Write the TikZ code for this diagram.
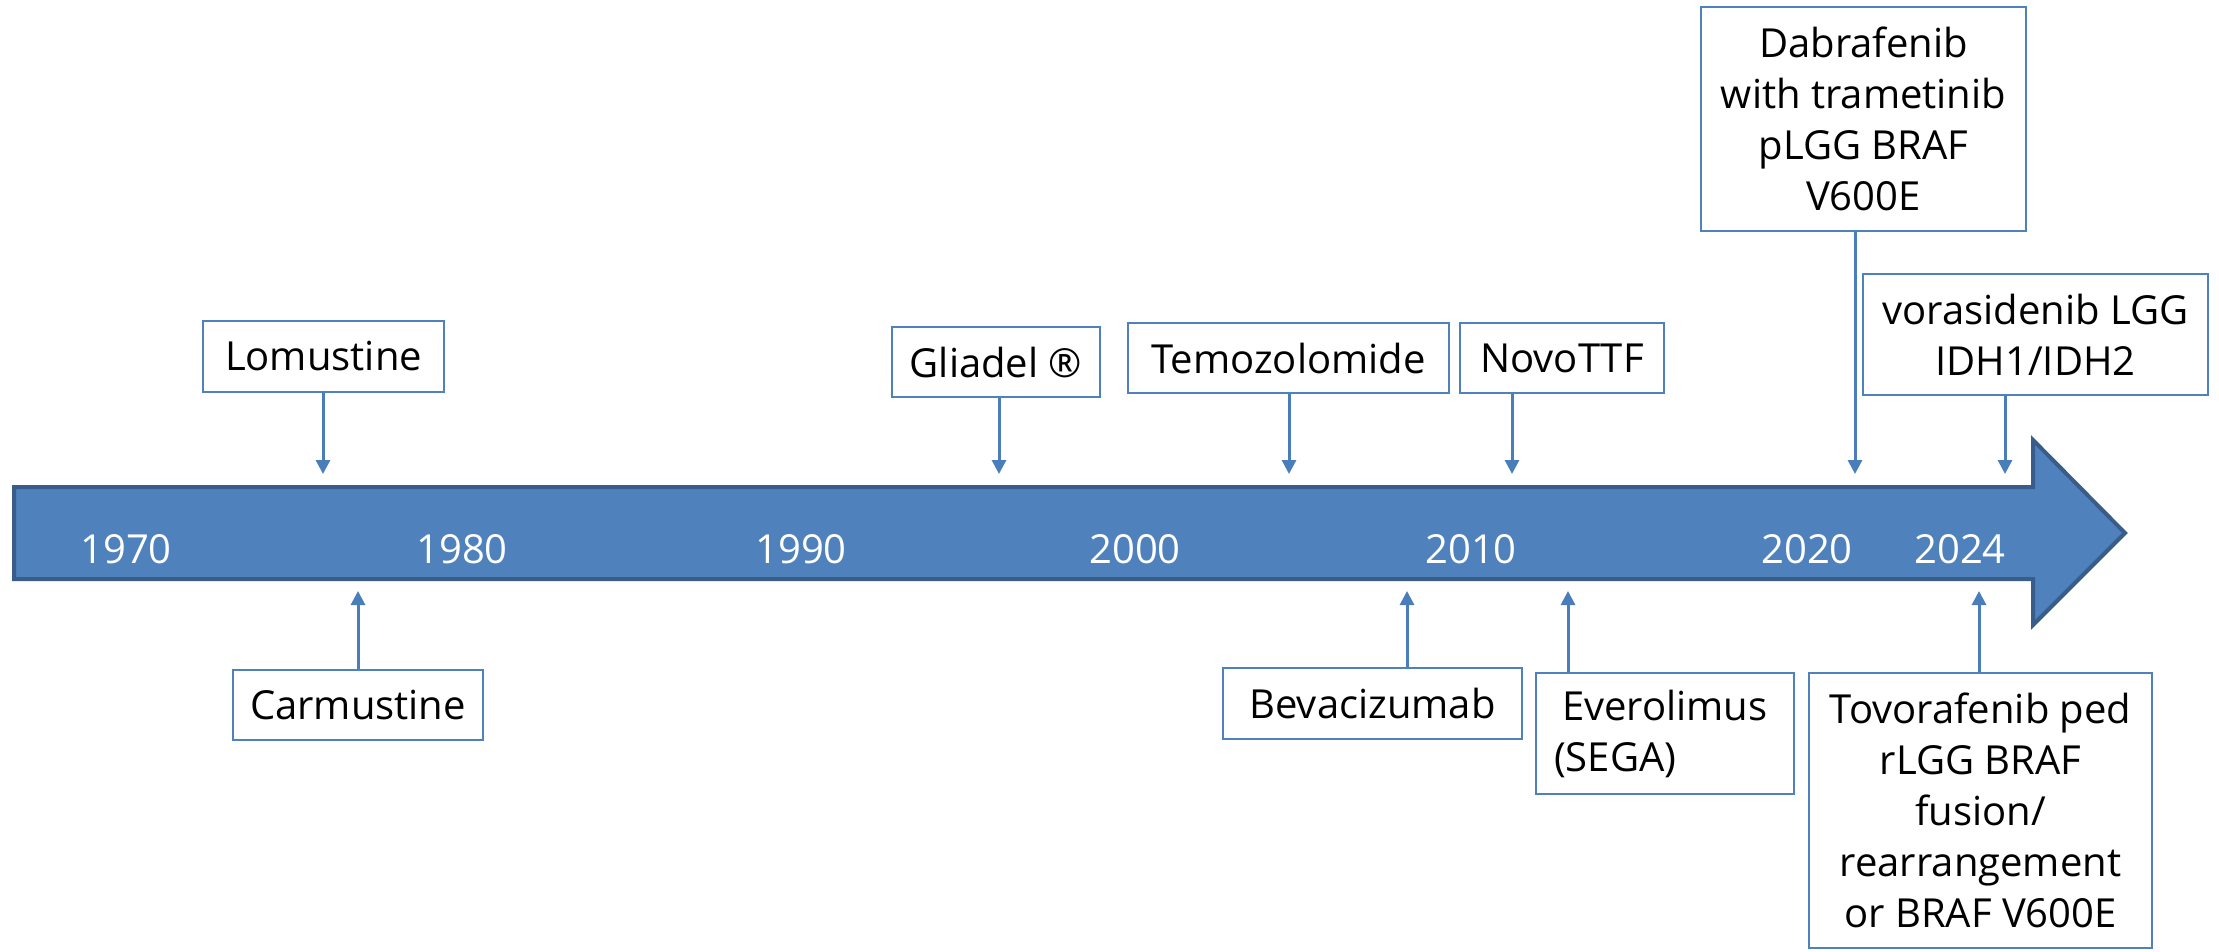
\documentclass[tikz,border=0pt]{standalone}
\usepackage{fontspec}
\setmainfont{Open Sans}
\usetikzlibrary{arrows.meta}
\definecolor{bodyblue}{HTML}{4F81BD}
\definecolor{bodyedge}{HTML}{385D8A}
\definecolor{boxblue}{HTML}{4F81BD}
\definecolor{linkblue}{HTML}{4A7EBB}
\newcommand\lblfont{\fontsize{40}{51}\selectfont}
\begin{document}
\begin{tikzpicture}[x=1pt,y=-1pt,
  lbox/.style={draw=boxblue, line width=2.5pt, fill=white, inner sep=0pt, align=center, font=\lblfont, text=black},
  link/.style={draw=linkblue, line width=3pt, -{Triangle[length=14pt,width=14pt]}},
  yearlbl/.style={text=white, font=\lblfont, inner sep=0pt}]
\useasboundingbox (0,0) rectangle (2219,951);
% timeline arrow
\path[fill=bodyblue, draw=bodyedge, line width=4pt, line join=miter]
  (14,487) -- (2033,487) -- (2033,440) -- (2125,533) -- (2033,625) -- (2033,579) -- (14,579) -- cycle;
% years
\node[yearlbl] (y1970) at (126,549) {1970};
\node[yearlbl] (y1980) at (462,549) {1980};
\node[yearlbl] (y1990) at (801,549) {1990};
\node[yearlbl] (y2000) at (1135,549) {2000};
\node[yearlbl] (y2010) at (1471,549) {2010};
\node[yearlbl] (y2020) at (1807,549) {2020};
\node[yearlbl] (y2024) at (1960,549) {2024};
% boxes above
\node[lbox, minimum width=241pt, minimum height=71pt] (lom) at (323.5,356.5) {Lomustine};
\node[lbox, minimum width=208pt, minimum height=70pt] (gli) at (996,362) {Gliadel ®};
\node[lbox, minimum width=321pt, minimum height=70pt] (tem) at (1288.5,358) {Temozolomide};
\node[lbox, minimum width=204pt, minimum height=70pt] (nov) at (1562,358) {NovoTTF};
\node[lbox, minimum width=325pt, minimum height=224pt] (dab) at (1863.5,119) {Dabrafenib\\with trametinib\\pLGG BRAF\\V600E};
\node[lbox, minimum width=345pt, minimum height=121pt] (vor) at (2035.5,334.5) {vorasidenib LGG\\IDH1/IDH2};
% boxes below
\node[lbox, minimum width=250pt, minimum height=70pt] (car) at (358,705) {Carmustine};
\node[lbox, minimum width=299pt, minimum height=71pt] (bev) at (1372.5,703.5) {Bevacizumab};
\node[lbox, minimum width=258pt, minimum height=121pt, text width=222pt, align=left] (eve) at (1665,733.5) {\hspace*{8pt}Everolimus\\(SEGA)};
\node[lbox, minimum width=343pt, minimum height=275pt] (tov) at (1980.5,810.5) {Tovorafenib ped\\rLGG BRAF\\fusion/\\rearrangement\\or BRAF V600E};
% arrow tips
\coordinate (lomtip) at (323,474);
\coordinate (glitip) at (999,474);
\coordinate (temtip) at (1289,474);
\coordinate (novtip) at (1512,474);
\coordinate (dabtip) at (1855,474);
\coordinate (vortip) at (2005,474);
\coordinate (cartip) at (358,591);
\coordinate (bevtip) at (1407,591);
\coordinate (evetip) at (1568,591);
\coordinate (tovtip) at (1979,591);
% connectors
\draw[link] (lomtip |- lom.south) -- (lomtip);
\draw[link] (glitip |- gli.south) -- (glitip);
\draw[link] (temtip |- tem.south) -- (temtip);
\draw[link] (novtip |- nov.south) -- (novtip);
\draw[link] (dabtip |- dab.south) -- (dabtip);
\draw[link] (vortip |- vor.south) -- (vortip);
\draw[link] (cartip |- car.north) -- (cartip);
\draw[link] (bevtip |- bev.north) -- (bevtip);
\draw[link] (evetip |- eve.north) -- (evetip);
\draw[link] (tovtip |- tov.north) -- (tovtip);
\end{tikzpicture}
\end{document}
